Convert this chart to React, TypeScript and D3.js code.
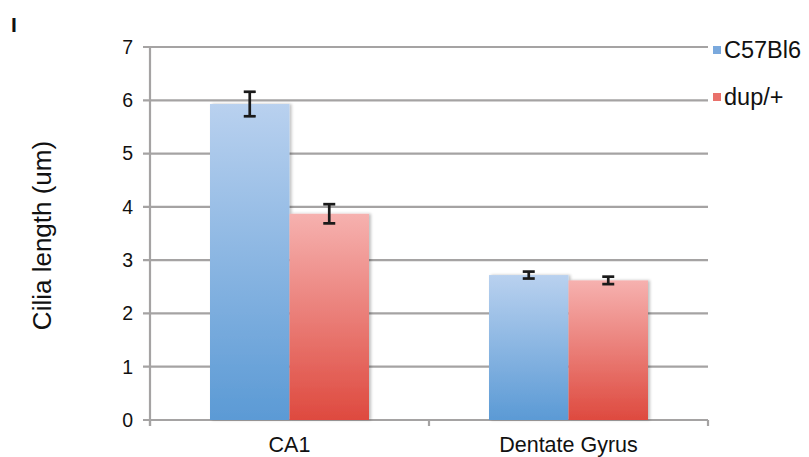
import React from "react";
import * as d3 from "d3";

const categories = ["CA1", "Dentate Gyrus"];
const seriesNames = ["C57Bl6", "dup/+"];
const c57Values = [5.93, 2.72];
const c57Errors = [0.23, 0.065];
const dupValues = [3.87, 2.62];
const dupErrors = [0.18, 0.07];
const yTicks = [0, 1, 2, 3, 4, 5, 6, 7];

const W = 809;
const H = 457;
const left = 150;
const right = 708;
const top = 47;
const bottom = 420;
const FONT = "'Liberation Sans', Arial, Helvetica, sans-serif";

export default function App() {
  React.useEffect(() => {
    document.body.style.margin = "0";
    document.body.style.overflow = "hidden";
    document.documentElement.style.overflow = "hidden";
  }, []);
  const x = d3.scaleBand<string>().domain(categories).range([left, right]).paddingInner(0).paddingOuter(0);
  const y = d3.scaleLinear().domain([0, 7]).range([bottom, top]);
  const barW = 79.5;
  const series = [
    { name: seriesNames[0], values: c57Values, errors: c57Errors, grad: "gBlue", top: "#b9d1ef", bot: "#5b9ad5", legend: "#7aa9dd" },
    { name: seriesNames[1], values: dupValues, errors: dupErrors, grad: "gRed", top: "#f6b1af", bot: "#de4a3f", legend: "#e9716b" },
  ];
  const grid = "#a5a3a3";
  return (
    <div style={{ position: "absolute", left: 0, top: 0, width: W, height: H, overflow: "hidden" }}>
      <svg width={W} height={H} style={{ display: "block", background: "#fff" }}>
        <defs>
          {series.map((s) => (
            <linearGradient key={s.grad} id={s.grad} x1="0" y1="0" x2="0" y2="1" gradientUnits="objectBoundingBox">
              <stop offset="0" stopColor={s.top} />
              <stop offset="1" stopColor={s.bot} />
            </linearGradient>
          ))}
          <filter id="shadow" x="-10%" y="-5%" width="120%" height="110%">
            <feGaussianBlur in="SourceAlpha" stdDeviation="1.5" />
            <feOffset dx="1.5" dy="0" result="b" />
            <feComponentTransfer>
              <feFuncA type="linear" slope="0.25" />
            </feComponentTransfer>
            <feMerge>
              <feMergeNode />
              <feMergeNode in="SourceGraphic" />
            </feMerge>
          </filter>
        </defs>
        <text x={11} y={32} fontFamily={FONT} fontWeight="bold" fontSize={21} fill="#111">I</text>
        {yTicks.map((t) => (
          <g key={t}>
            <line x1={143} x2={right} y1={y(t)} y2={y(t)} stroke={grid} strokeWidth={2.2} />
            <text x={133} y={y(t)} dy="0.35em" textAnchor="end" fontFamily={FONT} fontSize={19.5} fill="#111">{t}</text>
          </g>
        ))}
        <line x1={left} x2={left} y1={top} y2={bottom + 6} stroke={grid} strokeWidth={2.2} />
        {[left, left + x.bandwidth(), right].map((tx, i) => (
          <line key={i} x1={tx} x2={tx} y1={bottom} y2={bottom + 6} stroke={grid} strokeWidth={2.2} />
        ))}
        {categories.map((c, ci) => {
          const cx = (x(c) as number) + x.bandwidth() / 2;
          return (
            <g key={c}>
              {series.map((s, si) => {
                const bx = cx - barW + si * barW;
                const v = s.values[ci];
                return (
                  <rect key={s.name} x={bx} y={y(v)} width={barW} height={y(0) - y(v)} fill={`url(#${s.grad})`} filter="url(#shadow)" />
                );
              })}
              {series.map((s, si) => {
                const ex = cx - barW / 2 + si * barW;
                const v = s.values[ci];
                const e = s.errors[ci];
                return (
                  <g key={s.name + "e"} stroke="#1a1a1a" strokeWidth={2.7}>
                    <line x1={ex} x2={ex} y1={y(v + e)} y2={y(v - e)} />
                    <line x1={ex - 6} x2={ex + 6} y1={y(v + e)} y2={y(v + e)} />
                    <line x1={ex - 6} x2={ex + 6} y1={y(v - e)} y2={y(v - e)} />
                  </g>
                );
              })}
              <text x={cx} y={452} textAnchor="middle" fontFamily={FONT} fontSize={21.5} fill="#111">{c}</text>
            </g>
          );
        })}
        <text transform={`translate(51,${(top + bottom) / 2 + 2}) rotate(-90)`} textAnchor="middle" fontFamily={FONT} fontSize={26} fill="#111">Cilia length (um)</text>
        {series.map((s, i) => (
          <g key={s.name}>
            <rect x={713} y={46 + i * 47} width={8} height={8} fill={s.legend} />
            <text x={724} y={50 + i * 47} dy="0.35em" fontFamily={FONT} fontSize={23.5} fill="#111">{s.name}</text>
          </g>
        ))}
      </svg>
    </div>
  );
}
